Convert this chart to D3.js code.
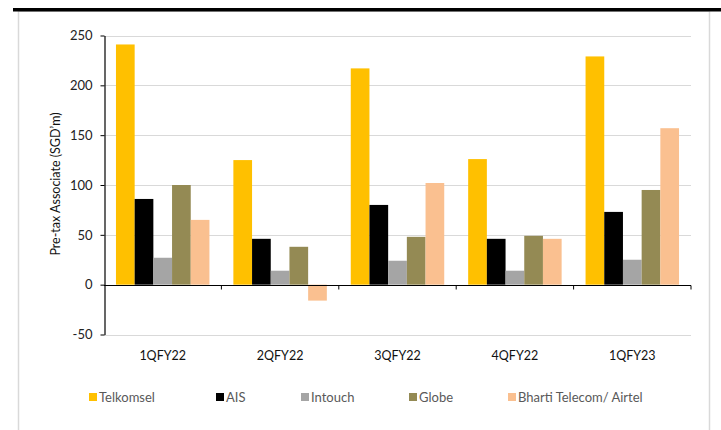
<!DOCTYPE html>
<html>
<head>
<meta charset="utf-8">
<script src="https://cdn.jsdelivr.net/npm/d3@7"></script>
<style>
  body { margin: 0; background: #fff; }
  svg text { font-family: Lato, "Open Sans", sans-serif; }
</style>
</head>
<body>
<div id="chart"></div>
<script>
// quarters on the x axis
var quarters = ["1QFY22", "2QFY22", "3QFY22", "4QFY22", "1QFY23"];
var series = ["Telkomsel", "AIS", "Intouch", "Globe", "Bharti Telecom/ Airtel"];

// pre-tax associate contribution, SGD m
var telkomsel = [241, 125, 217, 126, 229];
var ais = [86, 46, 80, 46, 73];
var intouch = [27, 14, 24, 14, 25];
var globe = [100, 38, 48, 49, 95];
var bharti = [65, -16, 102, 46, 157];

var yTicks = [-50, 0, 50, 100, 150, 200, 250];
var colors = ["#FFC000", "#000000", "#A5A5A5", "#948A54", "#FAC090"];

var valuesBySeries = [telkomsel, ais, intouch, globe, bharti];
var data = quarters.map(function(q, i) {
	return { q: q, vals: series.map(function(s, j) { return { s: s, v: valuesBySeries[j][i] }; }) };
});

var width = 721, height = 430;
var svg = d3.select("#chart").append("svg")
		.attr("width", width)
		.attr("height", height);

// frame: thick rule on top, light grey box
svg.append("rect")
		.attr("x", 18.5).attr("y", 11)
		.attr("width", 691).attr("height", 430)
		.attr("fill", "none")
		.attr("stroke", "#d9d9d9")
		.attr("stroke-width", 1.5);
svg.append("rect")
		.attr("x", 13).attr("y", 8)
		.attr("width", 708).attr("height", 3.5)
		.attr("fill", "#000");

var left = 104, right = 691;
var y = d3.scaleLinear().domain([-50, 250]).range([334.5, 35.5]);
var x0 = d3.scaleBand().domain(quarters).range([left, right]);
var x1 = d3.scaleBand().domain(series).range([0, x0.bandwidth()]).paddingOuter(0.64);
var color = d3.scaleOrdinal().domain(series).range(colors);

// gridlines
svg.append("g")
	.selectAll("line")
		.data(yTicks.filter(function(d) { return d !== 0; }))
	.enter().append("line")
		.attr("x1", left).attr("x2", right)
		.attr("y1", function(d) { return Math.round(y(d)) + 0.5; })
		.attr("y2", function(d) { return Math.round(y(d)) + 0.5; })
		.attr("stroke", "#d9d9d9")
		.attr("stroke-width", 1.2);

// bars
var group = svg.append("g").selectAll("g")
		.data(data)
	.enter().append("g")
		.attr("transform", function(d) { return "translate(" + x0(d.q) + ",0)"; });

group.selectAll("rect")
		.data(function(d) { return d.vals; })
	.enter().append("rect")
		.attr("x", function(d) { return x1(d.s); })
		.attr("width", x1.bandwidth())
		.attr("y", function(d) { return y(Math.max(0, d.v)); })
		.attr("height", function(d) { return Math.abs(y(d.v) - y(0)); })
		.attr("fill", function(d) { return color(d.s); });

// y axis
var yAxis = d3.axisLeft(y)
		.tickValues(yTicks)
		.tickFormat(function(d) { return String(d); })
		.tickSize(4)
		.tickSizeOuter(0);
var gy = svg.append("g")
		.attr("transform", "translate(" + (left + 0.5) + ",0)")
		.call(yAxis);
gy.select(".domain").attr("stroke", "#000").attr("stroke-width", 1.2);
gy.selectAll(".tick line").attr("stroke", "#000");
gy.selectAll(".tick text")
		.attr("x", -12)
		.attr("fill", "#222")
		.style("font-size", "13px");

// x axis at zero with tick marks between quarters
var xAxisLine = svg.append("g")
		.attr("transform", "translate(0," + (Math.round(y(0)) + 0.5) + ")");
xAxisLine.append("line")
		.attr("x1", left).attr("x2", right)
		.attr("stroke", "#000").attr("stroke-width", 1.2);
xAxisLine.selectAll(".xt")
		.data(quarters)
	.enter().append("line")
		.attr("class", "xt")
		.attr("x1", function(d) { return x0(d) + x0.bandwidth(); })
		.attr("x2", function(d) { return x0(d) + x0.bandwidth(); })
		.attr("y1", 0).attr("y2", 4)
		.attr("stroke", "#000");

// category labels
svg.append("g").selectAll("text")
		.data(quarters)
	.enter().append("text")
		.attr("x", function(d) { return x0(d) + x0.bandwidth() / 2; })
		.attr("y", 360)
		.attr("text-anchor", "middle")
		.attr("fill", "#111")
		.style("font-size", "12.5px")
		.text(function(d) { return d; });

// y axis title
svg.append("text")
		.attr("transform", "translate(60,184) rotate(-90)")
		.attr("text-anchor", "middle")
		.attr("fill", "#111")
		.style("font-size", "12.5px")
		.text("Pre-tax Associate (SGD\u2019m)");

// legend
var legendX = [89, 216, 301, 409, 508];
var legend = svg.append("g").selectAll("g")
		.data(series)
	.enter().append("g")
		.attr("transform", function(d, i) { return "translate(" + legendX[i] + ",393)"; });
legend.append("rect")
		.attr("width", 8).attr("height", 8)
		.attr("fill", function(d) { return color(d); });
legend.append("text")
		.attr("x", 10).attr("y", 8.5)
		.attr("fill", "#595959")
		.style("font-size", "13px")
		.text(function(d) { return d; });
</script>
</body>
</html>
